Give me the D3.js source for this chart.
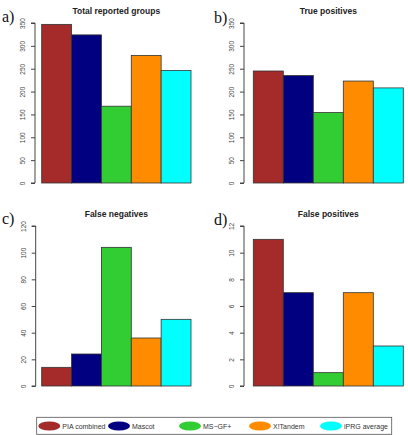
<!DOCTYPE html>
<html>
<head>
<meta charset="utf-8">
<script src="https://cdn.jsdelivr.net/npm/d3@7"></script>
<style>
  body { margin: 0; background: #fff; }
  svg { display: block; }
</style>
</head>
<body>
<div id="chart-area"></div>
<script>
// methods + colours (R named colours)
var methods = ['PIA combined', 'Mascot', 'MS\u2212GF+', 'X!Tandem', 'iPRG average'];
var colors = ['#a52a2a', '#000080', '#32cd32', '#ff8c00', '#00ffff'];

// values
var totalGroups = [347, 324, 168, 279, 246];
var truePositives = [245, 235, 154, 223, 208];
var falseNegatives = [14, 24, 104, 36, 50];
var falsePositives = [11, 7, 1, 7, 3];

var ticksCount = [0, 50, 100, 150, 200, 250, 300, 350];
var ticksFN = [0, 20, 40, 60, 80, 100, 120];
var ticksFP = [0, 2, 4, 6, 8, 10, 12];

var width = 408, height = 435;

var svg = d3.select('#chart-area')
    .append('svg')
        .attr('width', width)
        .attr('height', height);

function drawPanel(p) {
    var g = svg.append('g');

    var x = d3.scaleBand()
        .domain(methods)
        .range([p.left, p.right])
        .padding(0);

    var y = d3.scaleLinear()
        .domain([0, p.ticks[p.ticks.length - 1]])
        .range([p.bottom, p.top]);

    // y axis, R style
    var yAxisCall = d3.axisLeft(y)
        .tickValues(p.ticks)
        .tickSize(4)
        .tickPadding(7)
        .tickFormat(d3.format('d'));
    var ax = g.append('g')
        .attr('transform', 'translate(' + p.axisX + ',0)')
        .call(yAxisCall);
    ax.select('.domain')
        .attr('d', 'M-4,' + y(0) + 'H0V' + y(p.ticks[p.ticks.length - 1]) + 'H-4')
        .attr('stroke', '#444');
    ax.selectAll('.tick line').attr('stroke', '#444');
    ax.selectAll('.tick text')
        .attr('font-family', 'Liberation Sans, Arial, sans-serif')
        .attr('font-size', '6.5px')
        .attr('fill', '#444')
        .attr('text-anchor', 'middle')
        .attr('dy', '0')
        .attr('x', 0)
        .attr('transform', function () {
            return 'translate(-10,0) rotate(-90)';
        });

    // bars
    g.selectAll('rect')
        .data(p.values)
        .enter()
        .append('rect')
            .attr('x', (d, i) => x(methods[i]))
            .attr('y', d => y(d))
            .attr('width', x.bandwidth())
            .attr('height', d => y(0) - y(d))
            .attr('fill', (d, i) => colors[i])
            .attr('stroke', '#333')
            .attr('stroke-width', 0.8);

    // title
    g.append('text')
        .attr('x', (p.left + p.right) / 2)
        .attr('y', p.titleY)
        .attr('text-anchor', 'middle')
        .attr('font-family', 'Liberation Sans, Arial, sans-serif')
        .attr('font-weight', 'bold')
        .attr('font-size', '8.5px')
        .attr('fill', '#222')
        .text(p.title);

    // panel letter
    g.append('text')
        .attr('x', p.letterX)
        .attr('y', p.letterY)
        .attr('font-family', 'Liberation Serif, DejaVu Serif, serif')
        .attr('font-size', '16px')
        .attr('fill', '#111')
        .text(p.letter);
}

drawPanel({ values: totalGroups, ticks: ticksCount, title: 'Total reported groups', letter: 'a)',
    axisX: 35, left: 41.7, right: 191, top: 23, bottom: 183, titleY: 14, letterX: 2, letterY: 22 });
drawPanel({ values: truePositives, ticks: ticksCount, title: 'True positives', letter: 'b)',
    axisX: 244, left: 253.3, right: 403.3, top: 23, bottom: 183, titleY: 14, letterX: 214, letterY: 23 });
drawPanel({ values: falseNegatives, ticks: ticksFN, title: 'False negatives', letter: 'c)',
    axisX: 35.7, left: 41.7, right: 191, top: 226, bottom: 386, titleY: 217, letterX: 2, letterY: 224 });
drawPanel({ values: falsePositives, ticks: ticksFP, title: 'False positives', letter: 'd)',
    axisX: 244, left: 253.3, right: 403.3, top: 226, bottom: 386, titleY: 217, letterX: 214, letterY: 225 });

// legend
var legendX = [38.3, 108, 179, 249, 320];
var leg = svg.append('g');
leg.append('rect')
    .attr('x', 36.7)
    .attr('y', 417.3)
    .attr('width', 355)
    .attr('height', 17)
    .attr('fill', 'none')
    .attr('stroke', '#555')
    .attr('stroke-width', 0.8);
var items = leg.selectAll('g.item')
    .data(methods)
    .enter()
    .append('g')
        .attr('class', 'item')
        .attr('transform', (d, i) => 'translate(' + legendX[i] + ',426)');
items.append('ellipse')
    .attr('cx', 11)
    .attr('cy', 0)
    .attr('rx', 11)
    .attr('ry', 4.5)
    .attr('fill', (d, i) => colors[i]);
items.append('text')
    .attr('x', 24)
    .attr('y', 2.5)
    .attr('font-family', 'Liberation Sans, Arial, sans-serif')
    .attr('font-size', '7px')
    .attr('fill', '#333')
    .text(d => d);
</script>
</body>
</html>
